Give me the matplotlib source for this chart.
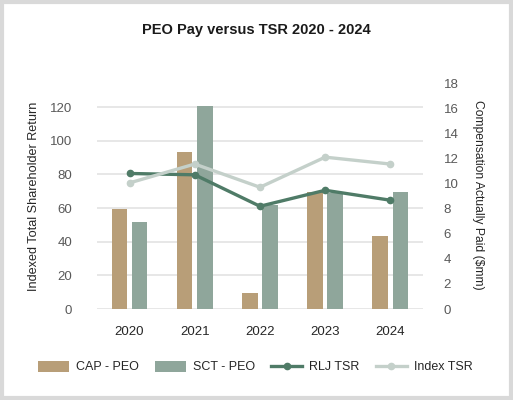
import matplotlib
matplotlib.use("Agg")
import matplotlib.pyplot as plt
from matplotlib.patches import Rectangle
import numpy as np

plt.rcParams["font.family"] = ["Liberation Sans", "DejaVu Sans"]

years = ["2020", "2021", "2022", "2023", "2024"]
cap_peo = [8.0, 12.5, 1.3, 9.3, 5.8]
sct_peo = [6.9, 16.2, 8.3, 9.2, 9.3]
rlj_tsr = [80.6, 79.8, 61.1, 70.6, 64.7]
index_tsr = [75.0, 86.2, 72.4, 90.3, 86.2]

c_cap = "#B89E78"
c_sct = "#8FA69B"
c_rlj = "#4F7B67"
c_idx = "#C4D0CA"
c_txt = "#595959"

fig = plt.figure(figsize=(5.13, 4.0), dpi=100)
fig.patches.append(Rectangle((0.003, 0.004), 0.994, 0.992, transform=fig.transFigure,
                             fill=False, edgecolor="#D9D9D9", lw=3))

ax = fig.add_axes([0.189, 0.2275, 0.6355, 0.565])
x = np.arange(len(years))

# left axis: TSR scale, grid + labels (back)
ax.set_ylim(0, 134.4)
ax.set_xlim(-0.5, 4.5)
ax.set_yticks([0, 20, 40, 60, 80, 100, 120])
ax.grid(axis="y", color="#E3E3E3", lw=1.2)
ax.set_axisbelow(True)
ax.tick_params(axis="y", length=0, pad=18, labelsize=9.5, labelcolor=c_txt)
ax.tick_params(axis="x", length=0, pad=12, labelsize=9.5, labelcolor="#262626")
ax.set_xticks(x)
ax.set_xticklabels(years)
ax.set_ylabel("Indexed Total Shareholder Return", fontsize=9.1, color="#262626")
ax.yaxis.set_label_coords(-0.175, 0.5)

# bars on right axis
ax2 = ax.twinx()
ax2.set_ylim(0, 18)
ax2.set_yticks(range(0, 19, 2))
b1 = ax2.bar(x - 0.155, cap_peo, 0.24, color=c_cap, label="CAP - PEO")
b2 = ax2.bar(x + 0.155, sct_peo, 0.24, color=c_sct, label="SCT - PEO")
ax2.tick_params(axis="y", length=0, pad=15, labelsize=9.5, labelcolor=c_txt)
ax2.set_ylabel("Compensation Actually Paid ($mm)", fontsize=8.7, color="#262626",
               rotation=270)
ax2.yaxis.set_label_coords(1.187, 0.505)

# lines on TSR scale, in front
ax3 = ax.twinx()
ax3.set_ylim(ax.get_ylim())
ax3.set_yticks([])
l1, = ax3.plot(x, rlj_tsr, color=c_rlj, lw=2.4, marker="o", ms=4.5, label="RLJ TSR")
l2, = ax3.plot(x, index_tsr, color=c_idx, lw=2.4, marker="o", ms=4.5, label="Index TSR")

for a in (ax, ax2, ax3):
    for s in a.spines.values():
        s.set_visible(False)

fig.text(0.5, 0.925, "PEO Pay versus TSR 2020 - 2024", ha="center", va="center",
         fontsize=10.5, fontweight="bold", color="#1A1A1A")

fig.legend(handles=[b1, b2, l1, l2], loc="center", bbox_to_anchor=(0.498, 0.0825),
           ncol=4, frameon=False, fontsize=9.0, handlelength=2.48, handleheight=1.0,
           handletextpad=0.56, columnspacing=1.28, labelcolor="#262626")

fig.savefig("out.png", dpi=100)
